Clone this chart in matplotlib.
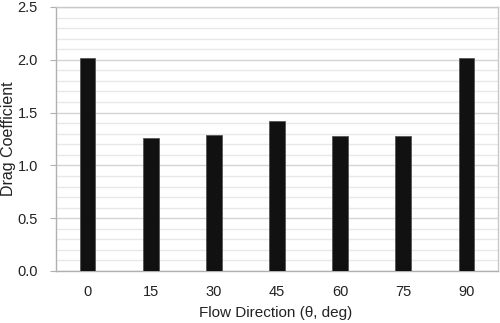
import numpy as np
import matplotlib.pyplot as plt
from matplotlib.ticker import MultipleLocator

# 数据
angles = ["0", "15", "30", "45", "60", "75", "90"]
drag = [2.02, 1.26, 1.29, 1.42, 1.28, 1.275, 2.02]

plt.rcParams['font.family'] = ['Liberation Sans', 'DejaVu Sans']

fig = plt.figure(figsize=(5, 3.23), dpi=100)
ax = fig.add_axes([56 / 500, 1 - 271 / 323, 442 / 500, 264 / 323])

x = np.arange(len(angles))
ax.bar(x, drag, width=0.25, color="#111111", edgecolor="#555555", linewidth=0.6, zorder=3)

ax.set_xlim(-0.5, len(angles) - 0.5)
ax.set_ylim(0, 2.5)
ax.set_xticks(x)
ax.set_xticklabels(angles)
ax.yaxis.set_major_locator(MultipleLocator(0.5))
ax.yaxis.set_minor_locator(MultipleLocator(0.1))
ax.yaxis.set_major_formatter(plt.FormatStrFormatter("%.1f"))

# 网格
ax.grid(axis="y", which="major", color="#d4d4d4", linewidth=1.0, zorder=0)
ax.grid(axis="y", which="minor", color="#e8e8e8", linewidth=1.0, zorder=0)

for s in ax.spines.values():
    s.set_color("#c8c8c8")
    s.set_linewidth(1.0)
ax.spines["left"].set_color("#b0b0b0")
ax.spines["bottom"].set_color("#b0b0b0")

ax.tick_params(axis="y", which="major", length=4, color="#b0b0b0", labelsize=10.5, labelcolor="#222222", pad=9)
ax.tick_params(axis="y", which="minor", length=0)
ax.tick_params(axis="x", length=0, labelsize=10.5, labelcolor="#222222", pad=10)

# 坐标轴标题
fig.text(276 / 500, 1 - 313 / 323, "Flow Direction (θ, deg)", fontsize=11, color="#222222",
         ha="center", va="center")
fig.text(9 / 500, 1 - 139 / 323, "Drag Coefficient", fontsize=11.5, color="#222222",
         ha="center", va="center", rotation=90)

fig.savefig("out.png", dpi=100)
